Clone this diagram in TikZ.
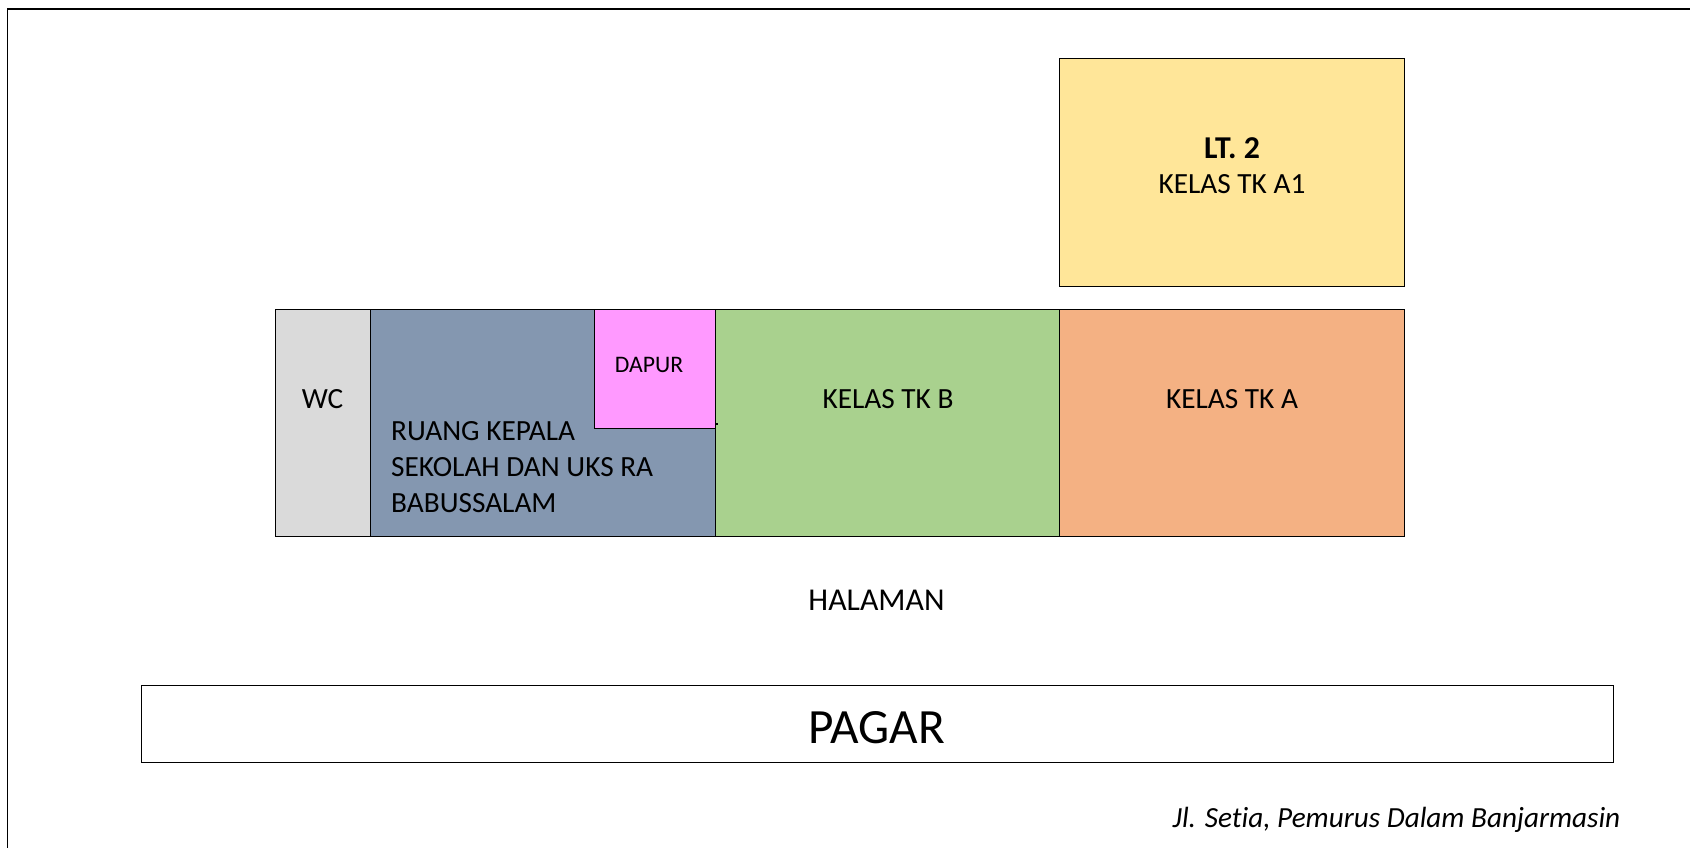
\documentclass[tikz,border=0pt]{standalone}
\usepackage{fontspec}
\setmainfont[Ligatures=NoCommon]{Carlito}
\definecolor{abuwc}{HTML}{DADADA}
\definecolor{biru}{HTML}{8497B0}
\definecolor{pink}{HTML}{FF99FF}
\definecolor{hijau}{HTML}{A9D18E}
\definecolor{oranye}{HTML}{F4B183}
\definecolor{kuning}{HTML}{FFE699}
\begin{document}
\begin{tikzpicture}[x=1pt,y=-1pt]
	\tikzstyle{kotak}=[rectangle,draw,line width=1.1pt,inner sep=0pt,anchor=north west]
	\tikzstyle{teks}=[inner sep=0pt,font=\fontsize{29.3}{36}\selectfont]
	\useasboundingbox (0,0) rectangle (1690,848);
	% bingkai
	\coordinate (fa) at (7.6,848);
	\coordinate (fb) at (7.6,9);
	\coordinate (fc) at (1690,9);
	\draw[line width=1.1pt] (fa) -- (fb) -- (fc);
	% ruangan
	\node[kotak,fill=abuwc,minimum width=95.4pt,minimum height=227pt] (wc) at (274.6,309.3){};
	\node[kotak,fill=biru,minimum width=345pt,minimum height=227pt] (ruang) at (370,309.3){};
	\node[kotak,fill=pink,minimum width=121pt,minimum height=118.7pt] (dapur) at (594,309.3){};
	\node[kotak,fill=hijau,minimum width=344pt,minimum height=227pt] (kelasb) at (715,309.3){};
	\node[kotak,fill=oranye,minimum width=345.2pt,minimum height=227pt] (kelasa) at (1059,309.3){};
	\node[kotak,fill=kuning,minimum width=345.2pt,minimum height=228pt] (kelasa1) at (1059,58.2){};
	\node[kotak,fill=white,minimum width=1472pt,minimum height=77pt] (pagar) at (141,685){};
	% tanda kecil
	\coordinate (tika) at (715,424);
	\coordinate (tikb) at (718,424);
	\draw[line width=1.1pt] (tika) -- (tikb);
	% teks
	\node[teks] (twc) at (322.5,399){WC};
	\node[teks,anchor=west,align=left] (truang) at (391,467){RUANG KEPALA\\SEKOLAH DAN UKS RA\\BABUSSALAM};
	\node[teks,font=\fontsize{23.7}{26}\selectfont] (tdapur) at (649,364.5){DAPUR};
	\node[teks] (tb) at (888,399){KELAS TK B};
	\node[teks] (ta) at (1232,399){KELAS TK A};
	\node[teks,font=\fontsize{31.8}{33}\selectfont\bfseries] (tlt) at (1232,148){LT. 2};
	\node[teks] (ta1) at (1232,184){KELAS TK A1};
	\node[teks,font=\fontsize{31.8}{33}\selectfont] (thal) at (876.5,600){HALAMAN};
	\node[teks,font=\fontsize{49.3}{55}\selectfont] (tpagar) at (876.5,727.5){PAGAR};
	\node[teks,anchor=east,font=\fontsize{29.2}{32}\selectfont\itshape] (tjl) at (1620.5,819.5){Jl. Setia, Pemurus Dalam Banjarmasin};
\end{tikzpicture}
\end{document}
